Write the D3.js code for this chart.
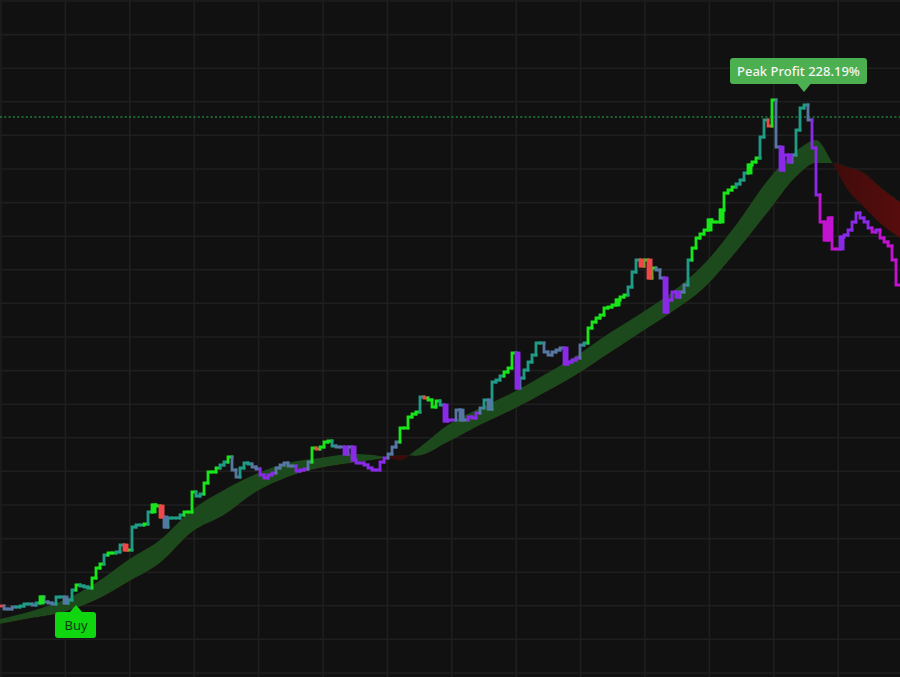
<!DOCTYPE html>
<html>
<head>
<meta charset="utf-8">
<script src="https://cdn.jsdelivr.net/npm/d3@7"></script>
<style>
    html, body { margin: 0; padding: 0; background: #111111; }
    svg { display: block; }
</style>
</head>
<body>
<svg id="chart"></svg>
<script>
// close of every bar (one bar ~ 4px)
const closes = [
    33.5, 32, 32, 33, 33, 33.5, 34.5, 34.5, 34, 35, 38, 35.5, 35, 34.5, 38, 38, 35, 36.5, 41.5, 44, 43.5, 43, 42.5, 47.5, 52.5,
    54.5, 59, 60, 60, 60.5, 64, 61.5, 61.5, 73, 74, 74, 74.5, 80.5, 84, 83.5, 78, 73, 77.5, 77.5, 77.5, 79, 80.5, 80.5, 90.5, 88.5,
    89.5, 95, 100.5, 100.5, 102.5, 104, 105.5, 108, 101.5, 98, 102.5, 105, 104.5, 103, 102, 99, 97.5, 99, 100, 102.5, 104, 105, 103.5, 103.5, 101,
    101.5, 102, 105.5, 112.5, 112, 113, 115.5, 116, 113.5, 113, 113, 109.5, 113, 106.5, 105, 105, 104, 102.5, 101.5, 101.5, 105.5, 107.5, 109.5, 113, 115.5,
    122.5, 122.5, 128, 129.5, 130.5, 138, 137.5, 136.5, 133, 136, 134, 126, 126.5, 126.5, 131.5, 126.5, 126.5, 128, 127.5, 130, 132.5, 136.5, 132, 145.5, 146.5,
    148.5, 150.5, 152.5, 160, 142.5, 147.5, 151.5, 155.5, 159, 165, 165, 160.5, 159, 160.5, 161.5, 162.5, 154.5, 155.5, 156.5, 157.5, 164, 165, 172.5, 175.5, 177.5,
    179, 182.5, 183, 184, 186.5, 188, 189, 193, 200.5, 206.5, 203.5, 206.5, 197.5, 202.5, 201.5, 197.5, 180.5, 186.5, 190.5, 188, 190.5, 194, 206.5, 212.5, 217.5,
    219.5, 221.5, 226.5, 225.5, 225.5, 231.5, 240, 241.5, 243, 244.5, 246.5, 250, 254, 255.5, 257.5, 268, 276.5, 273.5, 286.5, 263, 251.5, 259, 255.5, 259, 271.5,
    282.5, 284, 276.5, 262.5, 239, 225.5, 216.5, 227.5, 212, 212, 218, 219, 221.5, 225.5, 230, 227.5, 225.5, 222.5, 220.5, 221.5, 217.5, 215.5, 213.5, 206.5, 194
];

// trend colour of every bar: g strong up, t up, b flat, p down, m strong down, r pullback
const tones = ('rbbbttttbtgbbbttbttgtttgg' + 'gtggttrgtttgtggrbttttgggt' + 'tggggttgbbtttbbppppbbbbbp' +
    'ppbgrgggtbbpb' + 'ppppppppp' + 'bbb' + 'gggggtrgggtpppbbbpppbtbtt' + 'tgggpttttttbbbbbppppbtggg' +
    'gggggggtttrgrgbbppppbbtgg' + 'gggggggggtttgggttrgbpppbt' + 'ttbppmmmmmppppppppmpmmmmm').split('');

// bars drawn as a full body instead of a thin step
const blockBars = [10, 16, 31, 38, 40, 41, 86, 88, 111, 115, 122, 129, 141, 154, 160, 162, 166, 169, 177, 180, 187, 195, 197, 206, 207, 210];

// moving average ribbon, sampled at some bars
const maBars = [0, 8, 16, 24, 32, 40, 48, 56, 64, 72, 80, 88, 95, 100, 104, 112, 120, 128, 136, 144, 152, 160, 168, 176, 184, 192, 200, 204, 208, 212, 216, 220, 225];
const maFast = [27, 31, 36.5, 45, 56.5, 66.5, 81.5, 91.5, 99.5, 105, 107.5, 109.5, 108.5, 106.5, 111.5, 124, 132.5, 140, 149, 158.5, 169.5, 179.5, 190.5, 204.5, 224, 246.5, 262.5, 266.5, 255.5, 241.5, 233, 225, 217.5];
const maSlow = [24.5, 27.5, 30.5, 36.5, 45.5, 55, 70.5, 79, 90.5, 98, 102.5, 105, 107, 109, 108.5, 115.5, 124, 131.5, 140, 149, 159.5, 170, 180.5, 192.5, 210.5, 230.5, 250, 255, 255, 253, 250, 243, 235.5];

const peakLevel = 278;
const buyBar = 19;
const peakBar = 201;
const buyText = 'Buy';
const peakText = 'Peak Profit 228.19%';

class StepChart {

    constructor(_config) {
        this.config = {
            parentElement: _config.parentElement,
            containerWidth: 900,
            containerHeight: 677
        }
        this.toneColor = {
            g: '#19e619', t: '#1f9c86', b: '#5577a2', p: '#8a2ae8', m: '#c313d2', r: '#f04848'
        };
        this.initVis();
    }

    initVis() {
        let vis = this;

        vis.svg = d3.select(vis.config.parentElement)
            .attr('width', vis.config.containerWidth)
            .attr('height', vis.config.containerHeight);

        vis.xScale = d3.scaleLinear()
            .domain([0, closes.length])
            .range([0, vis.config.containerWidth]);

        vis.yScale = d3.scaleLinear()
            .domain([0, 336])
            .range([673, 1]);

        vis.svg.append('rect')
            .attr('width', vis.config.containerWidth)
            .attr('height', vis.config.containerHeight)
            .attr('fill', '#111111');

        vis.renderVis();
    }

    renderVis() {
        let vis = this;
        const x = vis.xScale, y = vis.yScale;

        // grid
        const grid = vis.svg.append('g').attr('stroke', '#1f1f1f').attr('stroke-width', 1.6);
        grid.selectAll('.hgrid')
            .data(d3.range(21).map(k => k * 16.8))
            .join('line')
            .attr('class', 'hgrid')
            .attr('x1', 0).attr('x2', vis.config.containerWidth)
            .attr('y1', d => y(d)).attr('y2', d => y(d));
        grid.selectAll('.vgrid')
            .data(d3.range(14).map(k => 0.25 + k * 16.1))
            .join('line')
            .attr('class', 'vgrid')
            .attr('y1', 0).attr('y2', vis.config.containerHeight)
            .attr('x1', d => x(d)).attr('x2', d => x(d));

        // ribbon: green where fast is above slow, red otherwise
        const ma = maBars.map((b, i) => ({bar: b, fast: maFast[i], slow: maSlow[i]}));
        const curve = d3.curveMonotoneX;
        const band = d3.area().curve(curve)
            .x(d => x(d.bar)).y0(d => y(d.fast)).y1(d => y(d.slow));
        const above = d3.area().curve(curve)
            .x(d => x(d.bar)).y0(0).y1(d => y(d.slow));
        const below = d3.area().curve(curve)
            .x(d => x(d.bar)).y0(vis.config.containerHeight).y1(d => y(d.slow));

        const defs = vis.svg.append('defs');
        defs.append('clipPath').attr('id', 'clip-up').append('path').attr('d', above(ma));
        defs.append('clipPath').attr('id', 'clip-down').append('path').attr('d', below(ma));
        const redGrad = defs.append('linearGradient')
            .attr('id', 'red-grad')
            .attr('gradientUnits', 'userSpaceOnUse')
            .attr('x1', x(207)).attr('x2', x(225)).attr('y1', 0).attr('y2', 0);
        redGrad.append('stop').attr('offset', 0).attr('stop-color', '#3e0b0b');
        redGrad.append('stop').attr('offset', 1).attr('stop-color', '#560c0c');

        vis.svg.append('path')
            .attr('d', band(ma))
            .attr('clip-path', 'url(#clip-up)')
            .attr('fill', '#1c4a1c');
        vis.svg.append('path')
            .attr('d', band(ma))
            .attr('clip-path', 'url(#clip-down)')
            .attr('fill', 'url(#red-grad)');

        // dotted level of the peak
        vis.svg.append('line')
            .attr('x1', 0).attr('x2', vis.config.containerWidth)
            .attr('y1', y(peakLevel)).attr('y2', y(peakLevel))
            .attr('stroke', '#23803f')
            .attr('stroke-width', 1.4)
            .attr('stroke-dasharray', '2,2.3');

        // price as a step line, one piece per bar
        const bars = closes.map((c, i) => ({i: i, open: i === 0 ? c : closes[i - 1], close: c, tone: tones[i]}));
        vis.svg.append('g').selectAll('.step')
            .data(bars)
            .join('path')
            .attr('class', 'step')
            .attr('d', d => `M${x(d.i)},${y(d.open)}V${y(d.close)}H${x(d.i + 1)}`)
            .attr('fill', 'none')
            .attr('stroke', d => vis.toneColor[d.tone])
            .attr('stroke-width', 2.8)
            .attr('stroke-linecap', 'square');

        // full bodies
        vis.svg.append('g').selectAll('.body')
            .data(bars.filter(d => blockBars.includes(d.i)))
            .join('rect')
            .attr('class', 'body')
            .attr('x', d => x(d.i) - 0.5)
            .attr('width', d => x(d.i + 1) - x(d.i) + 1)
            .attr('y', d => Math.min(y(d.open), y(d.close)) - 1.4)
            .attr('height', d => Math.abs(y(d.open) - y(d.close)) + 2.8)
            .attr('fill', d => vis.toneColor[d.tone]);

        // peak label
        const px = x(peakBar), py = y(closes[peakBar]) - 13;
        const peak = vis.svg.append('g');
        peak.append('rect')
            .attr('x', px - 74).attr('y', py - 34)
            .attr('width', 137).attr('height', 26)
            .attr('rx', 3)
            .attr('fill', '#4caf50');
        peak.append('path')
            .attr('d', `M${px},${py}L${px - 7},${py - 8.5}L${px + 7},${py - 8.5}Z`)
            .attr('fill', '#4caf50');
        peak.append('text')
            .attr('x', px - 5.5).attr('y', py - 21)
            .attr('text-anchor', 'middle')
            .attr('dominant-baseline', 'central')
            .attr('font-family', '"Noto Sans", "Open Sans", sans-serif')
            .attr('font-size', 13)
            .attr('font-weight', 500)
            .attr('fill', '#f4f4f4')
            .text(peakText);

        // buy label
        const bx = x(buyBar), by = y(closes[buyBar]) + 20;
        const buy = vis.svg.append('g');
        buy.append('rect')
            .attr('x', bx - 21).attr('y', by + 7)
            .attr('width', 41).attr('height', 26)
            .attr('rx', 3)
            .attr('fill', '#0fd60f');
        buy.append('path')
            .attr('d', `M${bx},${by}L${bx - 6.5},${by + 7.5}L${bx + 6.5},${by + 7.5}Z`)
            .attr('fill', '#0fd60f');
        buy.append('text')
            .attr('x', bx).attr('y', by + 20)
            .attr('text-anchor', 'middle')
            .attr('dominant-baseline', 'central')
            .attr('font-family', '"Noto Sans", "Open Sans", sans-serif')
            .attr('font-size', 13)
            .attr('fill', '#0b3a0b')
            .text(buyText);
    }
}

new StepChart({parentElement: '#chart'});
</script>
</body>
</html>
